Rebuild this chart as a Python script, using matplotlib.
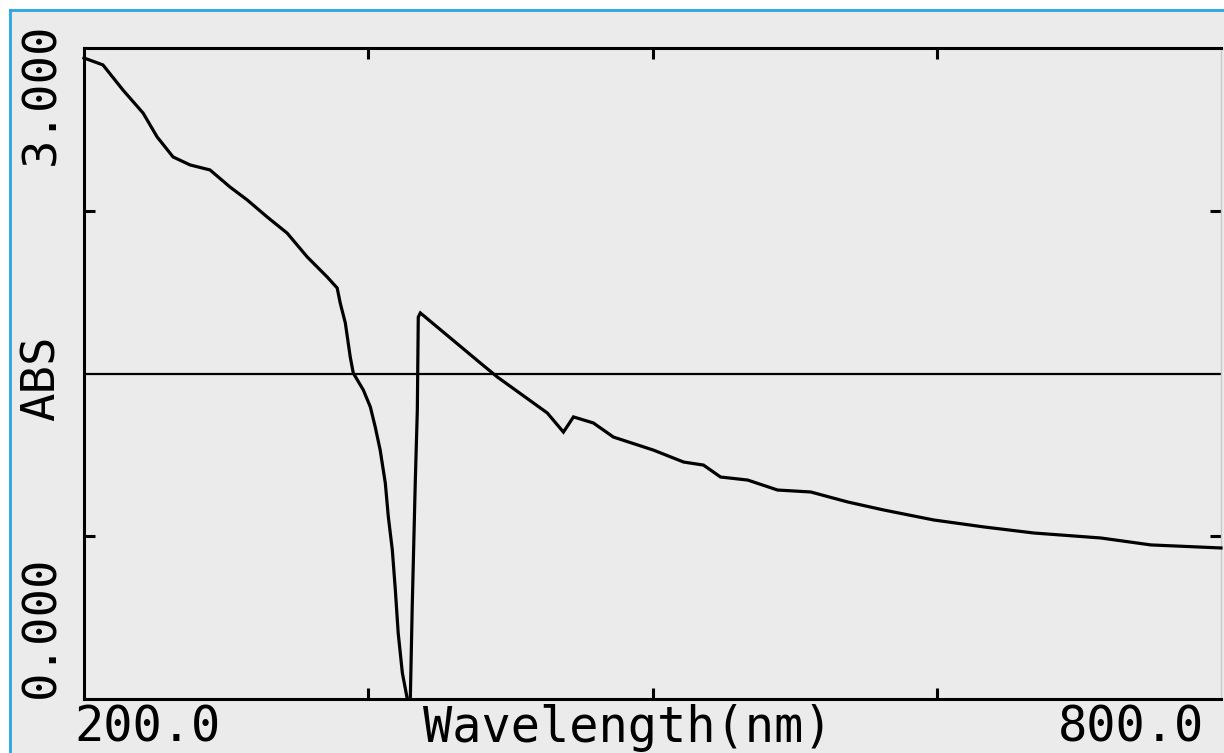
import matplotlib
matplotlib.use('Agg')
import numpy as np
from matplotlib import pyplot as plt
from matplotlib.lines import Line2D

# Absorption spectrum
wavelength_nm = [200.0, 210.0, 220.6, 231.2, 238.6, 247.0, 256.0, 266.5, 277.1, 286.1,
                 296.7, 307.2, 317.8, 328.3, 333.6, 335.2, 337.9, 340.5, 342.1, 347.4,
                 351.1, 353.7, 356.3, 359.0, 360.6, 362.7, 364.3, 365.8, 368.0, 370.6,
                 372.2, 373.2, 374.8, 375.9, 376.4, 377.5, 409.2, 418.1, 444.5, 453.0,
                 458.3, 468.8, 479.4, 500.5, 516.4, 526.9, 535.9, 550.2, 566.0, 583.5,
                 603.0, 622.0, 648.4, 674.8, 701.2, 736.6, 763.0, 800.0]
absorbance = [2.954, 2.922, 2.806, 2.700, 2.590, 2.498, 2.461, 2.438, 2.359, 2.300,
              2.221, 2.147, 2.037, 1.945, 1.894, 1.825, 1.733, 1.576, 1.502, 1.424,
              1.346, 1.253, 1.147, 0.995, 0.839, 0.687, 0.502, 0.304, 0.120, 0.0,
              0.0, 0.424, 0.995, 1.332, 1.760, 1.779, 1.548, 1.484, 1.318, 1.230,
              1.300, 1.272, 1.207, 1.147, 1.092, 1.078, 1.023, 1.009, 0.963, 0.954,
              0.908, 0.871, 0.825, 0.793, 0.765, 0.742, 0.710, 0.696]

x_range = [200.0, 800.0]
y_range = [0.0, 3.0]
x_ticks = [350.0, 500.0, 650.0]
y_ticks = [0.75, 2.25]
y_mid = 1.5

W, H = 1224, 753
BG = '#ebebeb'
FRAME = '#27a6e2'
MONO = 'DejaVu Sans Mono'

fig = plt.figure(figsize=(W / 100, H / 100), dpi=100, facecolor='white')

# screen background and the blue border along the top and left
fig.add_artist(plt.Rectangle((10 / W, 0), 1 - 10 / W, 1 - 10 / H,
                             transform=fig.transFigure, facecolor=BG,
                             edgecolor='none', zorder=0))
fig.add_artist(Line2D([10 / W, 1], [1 - 10 / H, 1 - 10 / H],
                      transform=fig.transFigure, color=FRAME, lw=2))
fig.add_artist(Line2D([10 / W, 10 / W], [0, 1 - 10 / H],
                      transform=fig.transFigure, color=FRAME, lw=2))

# plot area in pixels: left 84, right 1221, top 48, bottom 699
ax = fig.add_axes([84 / W, (H - 699) / H, (1221 - 84) / W, (699 - 48) / H])
ax.set_facecolor(BG)
ax.set_xlim(*x_range)
ax.set_ylim(*y_range)

ax.plot(wavelength_nm, absorbance, color='black', lw=2.3,
        solid_joinstyle='miter', clip_on=False, zorder=3)
ax.axhline(y_mid, color='black', lw=1.6, zorder=2)

for side in ['left', 'top', 'bottom']:
    ax.spines[side].set_linewidth(2.2)
ax.spines['right'].set_color('#c8c8c8')
ax.spines['right'].set_linewidth(1.0)

ax.set_xticks(x_ticks)
ax.set_yticks(y_ticks)
ax.tick_params(direction='in', length=8, width=2.2, color='black',
               top=True, right=True, labelbottom=False, labelleft=False)

# instrument-style labels
xlab_y = 1 - 742 / H
fig.text(147 / W, xlab_y, '200.0', family=MONO, fontsize=35,
         ha='center', va='baseline')
fig.text(628 / W, xlab_y, 'Wavelength(nm)', family=MONO, fontsize=35,
         ha='center', va='baseline')
fig.text(1058 / W, xlab_y, '800.0', family=MONO, fontsize=35,
         ha='left', va='baseline')
fig.text(42 / W, 1 - 94 / H, '3.000', family=MONO, fontsize=34,
         rotation=90, ha='center', va='center')
fig.text(42 / W, 1 - 378 / H, 'ABS', family=MONO, fontsize=34,
         rotation=90, ha='center', va='center')
fig.text(42 / W, 1 - 627 / H, '0.000', family=MONO, fontsize=34,
         rotation=90, ha='center', va='center')

fig.savefig('out.png', dpi=100, facecolor=fig.get_facecolor())
